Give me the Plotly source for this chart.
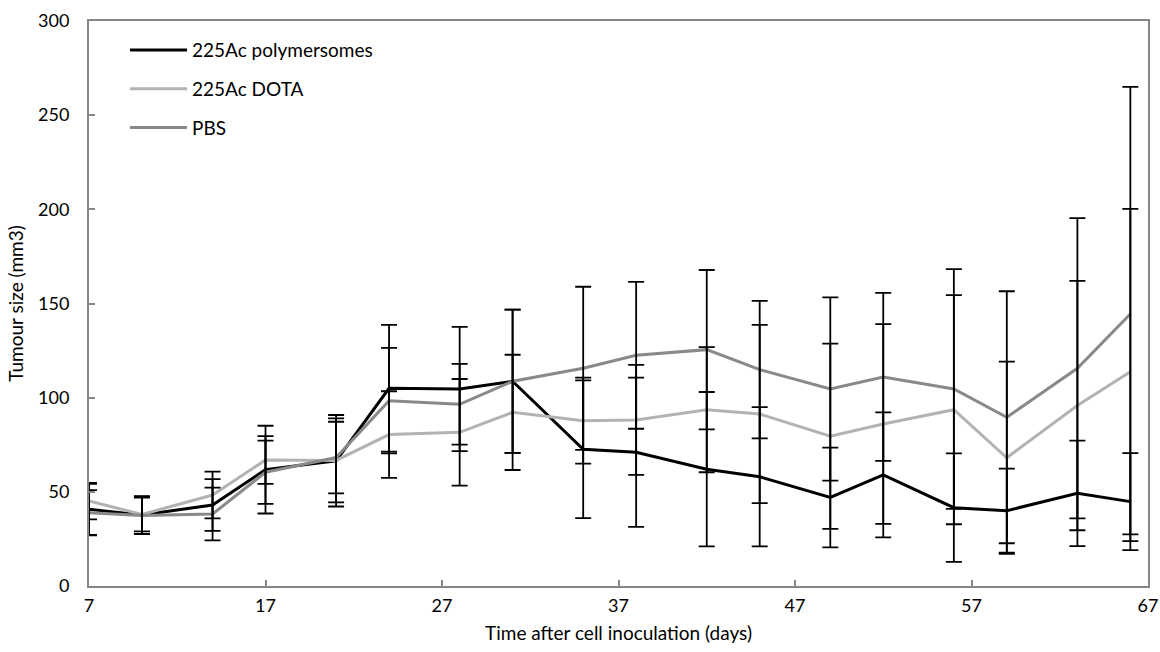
import plotly.graph_objects as go

days = [7, 10, 14, 17, 21, 24, 28, 31, 35, 38, 42, 45, 49, 52, 56, 59, 63, 66]

poly = [40.7, 37.7, 43.0, 61.8, 66.5, 105.0, 104.6, 108.7, 72.6, 71.0, 62.0, 58.0, 47.0, 59.0, 41.6, 40.0, 49.2, 44.8]
poly_err = [13.6, 10.0, 13.7, 23.3, 24.3, 33.6, 33.0, 38.0, 36.6, 39.6, 41.0, 37.0, 26.5, 33.2, 28.8, 22.3, 28.0, 25.8]

dota = [45.1, 38.0, 48.3, 66.9, 66.7, 80.4, 81.6, 92.2, 87.8, 88.2, 93.6, 91.3, 79.5, 86.0, 93.6, 68.1, 95.8, 113.8]
dota_err = [9.7, 9.0, 12.4, 12.7, 22.3, 23.0, 28.3, 30.6, 22.8, 29.2, 33.2, 47.3, 49.2, 53.0, 60.8, 51.0, 66.2, 86.4]

pbs = [38.9, 37.5, 38.2, 60.4, 68.2, 98.4, 96.5, 108.7, 115.6, 122.5, 125.5, 114.9, 104.6, 111.0, 104.6, 89.6, 115.6, 144.4]
pbs_err = [12.0, 10.0, 14.0, 16.8, 19.0, 28.0, 21.4, 38.0, 43.3, 39.0, 42.3, 36.5, 48.7, 44.6, 63.7, 66.9, 79.7, 120.6]

series_names = ["225Ac polymersomes", "225Ac DOTA", "PBS"]
series_colors = ["#000000", "#b3b3b3", "#898989"]

FONT = "Lato, Carlito, Calibri, sans-serif"

fig = go.Figure()
all_vals = [poly, dota, pbs]
all_errs = [poly_err, dota_err, pbs_err]

# lines
for name, vals, col in zip(series_names, all_vals, series_colors):
    fig.add_trace(go.Scatter(
        x=days, y=vals, mode="lines", name=name,
        line=dict(color=col, width=3),
        legendgroup=name, showlegend=True,
    ))

# error bars drawn above lines (black)
for name, vals, errs in zip(series_names, all_vals, all_errs):
    fig.add_trace(go.Scatter(
        x=days, y=vals, mode="markers", showlegend=False,
        marker=dict(size=1, color="rgba(0,0,0,0)"),
        error_y=dict(type="data", array=errs, visible=True,
                     color="#000000", thickness=1.8, width=8),
        hoverinfo="skip", legendgroup=name,
    ))

fig.update_layout(
    width=1160, height=652,
    margin=dict(l=89, r=12, t=21, b=66),
    paper_bgcolor="white", plot_bgcolor="white",
    font=dict(family=FONT, size=18, color="#000000"),
    showlegend=True,
    legend=dict(
        x=0.034, y=0.982, xanchor="left", yanchor="top",
        bgcolor="rgba(0,0,0,0)", borderwidth=0,
        font=dict(family=FONT, size=19, color="#000000"),
        itemwidth=57, tracegroupgap=11,
    ),
    xaxis=dict(
        range=[7, 67], tickvals=[7, 17, 27, 37, 47, 57, 67],
        ticks="inside", ticklen=6, tickcolor="#868686", tickwidth=1.5,
        showline=True, linecolor="#868686", linewidth=2, mirror=True,
        showgrid=False, zeroline=False, automargin=False,
        tickfont=dict(family=FONT, size=18),
        ticklabeloverflow="allow",
        title=dict(text="Time after cell inoculation (days)", font=dict(family=FONT, size=19), standoff=12),
        ticklabelstandoff=2,
    ),
    yaxis=dict(
        range=[0, 300], tickvals=[0, 50, 100, 150, 200, 250, 300],
        ticks="inside", ticklen=6, tickcolor="#868686", tickwidth=1.5,
        showline=True, linecolor="#868686", linewidth=2, mirror=True,
        showgrid=False, zeroline=False, automargin=False,
        tickfont=dict(family=FONT, size=18),
        title=dict(text="Tumour size (mm3)", font=dict(family=FONT, size=19), standoff=9),
        ticklabelstandoff=14,
    ),
)

fig.write_html(
    "out.html",
    config={"displayModeBar": False},
    post_script="document.body.style.margin='0px'; document.body.style.overflow='hidden';",
)
